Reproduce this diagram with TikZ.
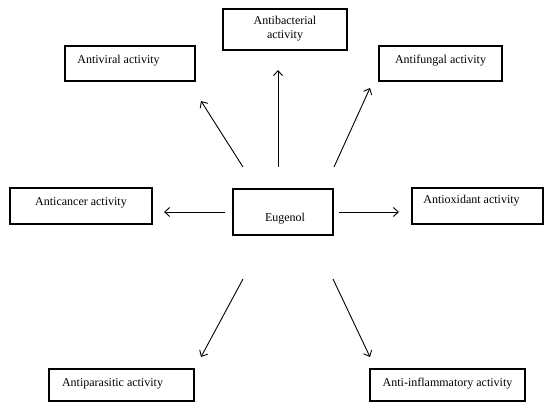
\documentclass[tikz,border=0pt]{standalone}
\usepackage{fontspec}
\setmainfont{Liberation Serif}
\usetikzlibrary{arrows.meta}
\begin{document}
\begin{tikzpicture}[x=1pt,y=-1pt,
  box/.style={draw=black,line width=1.8pt,inner sep=0pt,fill=none},
  lbl/.style={inner sep=0pt,align=center,font=\fontsize{12}{14}\selectfont},
  arr/.style={line width=0.9pt,-{Straight Barb[length=5pt,width=9pt,line width=0.9pt]}}]
\useasboundingbox[fill=white] (0,0) rectangle (550,409);
% boxes
\node[box,minimum width=124pt,minimum height=41pt] (bbact) at (285,29.5) {};
\node[box,minimum width=130pt,minimum height=35pt] (bvir) at (130,63.5) {};
\node[box,minimum width=123pt,minimum height=35pt] (bfun) at (440.5,63.5) {};
\node[box,minimum width=142pt,minimum height=36pt] (bcan) at (81,206) {};
\node[box,minimum width=100pt,minimum height=46pt] (beug) at (283,212) {};
\node[box,minimum width=131pt,minimum height=36pt] (boxi) at (477.5,206) {};
\node[box,minimum width=145pt,minimum height=32pt] (bpar) at (121.5,385) {};
\node[box,minimum width=155pt,minimum height=32pt] (binf) at (447.5,385) {};
% labels
\node[lbl] (tbact) at (285,29) {Antibacterial\\activity};
\node[lbl] (tvir) at (118.5,61) {Antiviral activity};
\node[lbl] (tfun) at (440.5,61) {Antifungal activity};
\node[lbl] (tcan) at (81,203) {Anticancer activity};
\node[lbl] (teug) at (285,219) {Eugenol};
\node[lbl] (toxi) at (471.5,201) {Antioxidant activity};
\node[lbl] (tpar) at (112.5,384) {Antiparasitic activity};
\node[lbl] (tinf) at (447.5,384) {Anti-inflammatory activity};
% arrow ends
\coordinate (svir) at (243,167); \coordinate (evir) at (201,101);
\coordinate (sbact) at (278,167); \coordinate (ebact) at (278,70);
\coordinate (sfun) at (334,167); \coordinate (efun) at (370,88);
\coordinate (scan) at (225,212); \coordinate (ecan) at (164,212);
\coordinate (soxi) at (339,212); \coordinate (eoxi) at (399,212);
\coordinate (spar) at (243,279); \coordinate (epar) at (201,357);
\coordinate (sinf) at (333,279); \coordinate (einf) at (370,357);
\draw[arr] (svir) -- (evir);
\draw[arr] (sbact) -- (ebact);
\draw[arr] (sfun) -- (efun);
\draw[arr] (scan) -- (ecan);
\draw[arr] (soxi) -- (eoxi);
\draw[arr] (spar) -- (epar);
\draw[arr] (sinf) -- (einf);
\end{tikzpicture}
\end{document}
